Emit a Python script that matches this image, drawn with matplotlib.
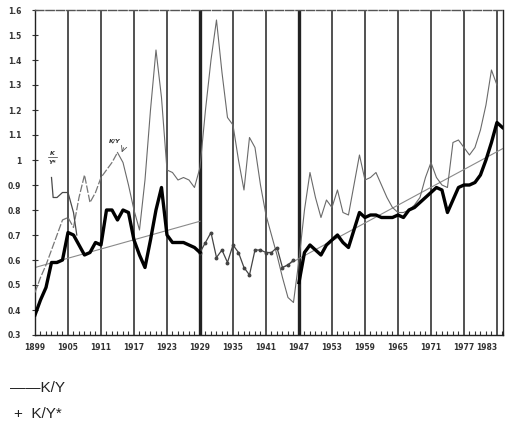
import numpy as np
import matplotlib.pyplot as plt

# K/Y (thick), 1899-1929 and 1947-1984
yrs_a1 = list(range(1899, 1930))
ky_a1 = [0.38, 0.44, 0.49, 0.59, 0.59, 0.60, 0.71, 0.70, 0.66, 0.62,
         0.63, 0.67, 0.66, 0.80, 0.80, 0.76, 0.80, 0.79, 0.68, 0.62,
         0.57, 0.68, 0.80, 0.89, 0.70, 0.67, 0.67, 0.67, 0.66, 0.65, 0.63]
yrs_a2 = list(range(1947, 1985))
ky_a2 = [0.51, 0.63, 0.66, 0.64, 0.62, 0.66, 0.68, 0.70, 0.67, 0.65,
         0.72, 0.79, 0.77, 0.78, 0.78, 0.77, 0.77, 0.77, 0.78, 0.77,
         0.80, 0.81, 0.83, 0.85, 0.87, 0.89, 0.88, 0.79, 0.84, 0.89,
         0.90, 0.90, 0.91, 0.94, 1.00, 1.07, 1.15, 1.13]

# K/Y between 1929 and 1946 (dotted)
yrs_b = list(range(1929, 1947))
ky_b = [0.63, 0.67, 0.71, 0.61, 0.64, 0.59, 0.66, 0.63, 0.57, 0.54,
        0.64, 0.64, 0.63, 0.63, 0.65, 0.57, 0.58, 0.60]

# thin series
yrs_c = list(range(1899, 1984))
ky_c = [0.47, 0.53, 0.58, 0.64, 0.70, 0.76, 0.77, 0.73, 0.85, 0.94,
        0.83, 0.87, 0.93, 0.96, 0.99, 1.03, 0.99, 0.90, 0.80, 0.72,
        0.92, 1.20, 1.44, 1.25, 0.96, 0.95, 0.92, 0.93, 0.92, 0.89,
        0.97, 1.20, 1.40, 1.56, 1.35, 1.17, 1.14, 1.00, 0.88, 1.09,
        1.05, 0.90, 0.78, 0.70, 0.62, 0.53, 0.45, 0.43, 0.60, 0.80,
        0.95, 0.85, 0.77, 0.84, 0.81, 0.88, 0.79, 0.78, 0.90, 1.02,
        0.92, 0.93, 0.95, 0.90, 0.85, 0.81, 0.79, 0.79, 0.80, 0.82,
        0.85, 0.93, 0.99, 0.93, 0.90, 0.89, 1.07, 1.08, 1.05, 1.02,
        1.05, 1.12, 1.22, 1.36, 1.30]

# K/Y* short piece
yrs_d = [1902, 1902.3, 1903, 1904, 1905, 1906, 1906.6]
ky_d = [0.93, 0.85, 0.85, 0.87, 0.87, 0.79, 0.70]

# trend lines
trend1_x = [1899, 1929]
trend1_y = [0.57, 0.755]
trend2_x = [1944, 1984]
trend2_y = [0.57, 1.045]

ticks_x = list(range(1899, 1984, 6))
ticks_y = [0.3, 0.4, 0.5, 0.6, 0.7, 0.8, 0.9, 1.0, 1.1, 1.2, 1.3, 1.4, 1.5, 1.6]
labels_y = ['0.3', '0.4', '0.5', '0.6', '0.7', '0.8', '0.9', '1',
            '1.1', '1.2', '1.3', '1.4', '1.5', '1.6']

fig = plt.figure(figsize=(5.05, 4.24), dpi=100)
ax = fig.add_axes([35 / 505, 1 - 335 / 424, 468 / 505, 325 / 424])

for x in ticks_x:
    lw = 2.4 if x in (1929, 1947) else 1.1
    ax.axvline(x, color='#222222', lw=lw, zorder=1)

ax.plot(trend1_x, trend1_y, color='#8a8a8a', lw=0.8, zorder=2)
ax.plot(trend2_x, trend2_y, color='#8a8a8a', lw=0.8, zorder=2)
split = yrs_c.index(1914) + 1
ax.plot(yrs_c[:split], ky_c[:split], color='#777777', lw=0.9, ls=(0, (6, 1.5)), zorder=3)
ax.plot(yrs_c[split - 1:], ky_c[split - 1:], color='#6a6a6a', lw=0.8, zorder=3)
ax.plot(yrs_d, ky_d, color='#4a4a4a', lw=0.9, zorder=3)
ax.plot(yrs_b, ky_b, color='#444444', lw=0.9, marker='o', ms=1.8, zorder=3)
ax.plot(yrs_a1, ky_a1, color='black', lw=2.4, zorder=4)
ax.plot(yrs_a2, ky_a2, color='black', lw=2.4, zorder=4)

ax.text(1902.2, 1.02, 'K', fontsize=4.5, fontweight='bold', style='italic', ha='center', color='#333333')
ax.text(1902.2, 0.985, 'Y*', fontsize=4.5, fontweight='bold', style='italic', ha='center', color='#333333')
ax.plot([1901.4, 1903.0], [1.013, 1.013], color='#333333', lw=0.5)
ax.text(1913.5, 1.07, 'K/Y', fontsize=4.5, fontweight='bold', style='italic', ha='center', color='#333333')
ax.annotate('', xy=(1914.6, 1.02), xytext=(1915.3, 1.06),
            arrowprops=dict(arrowstyle='->', color='#555555', lw=0.6))

ax.set_xlim(1899, 1984.1)
ax.set_ylim(0.3, 1.6)
ax.set_xticks(ticks_x)
ax.set_xticklabels([str(x) for x in ticks_x], fontsize=5.5, fontweight='bold', color='#333333')
ax.get_xticklabels()[-1].set_horizontalalignment('right')
ax.get_xticklabels()[-1].set_x(1984.1)
ax.set_xticks(list(range(1899, 1985)), minor=True)
ax.set_yticks(ticks_y)
ax.set_yticklabels(labels_y, fontsize=5.5, fontweight='bold', color='#333333')
ax.tick_params(axis='x', which='major', length=0, pad=6)
ax.tick_params(axis='x', which='minor', direction='in', length=3, width=0.8, color='#333333')
ax.tick_params(axis='y', direction='inout', length=4, width=0.8, color='#333333', pad=8)

for side in ['left', 'bottom', 'right']:
    ax.spines[side].set_color('#222222')
    ax.spines[side].set_linewidth(1.0)
ax.spines['top'].set_color('#555555')
ax.spines['top'].set_linestyle((0, (6, 1.5)))
ax.spines['top'].set_linewidth(1.0)

fig.text(10 / 505, 1 - 388 / 424, '\u2014\u2014K/Y', fontsize=11, va='center', ha='left',
         family='Liberation Sans', color='#222222')
fig.text(14 / 505, 1 - 414 / 424, '+  K/Y*', fontsize=11, va='center', ha='left',
         family='Liberation Sans', color='#222222')

fig.savefig('out.png', dpi=100)
